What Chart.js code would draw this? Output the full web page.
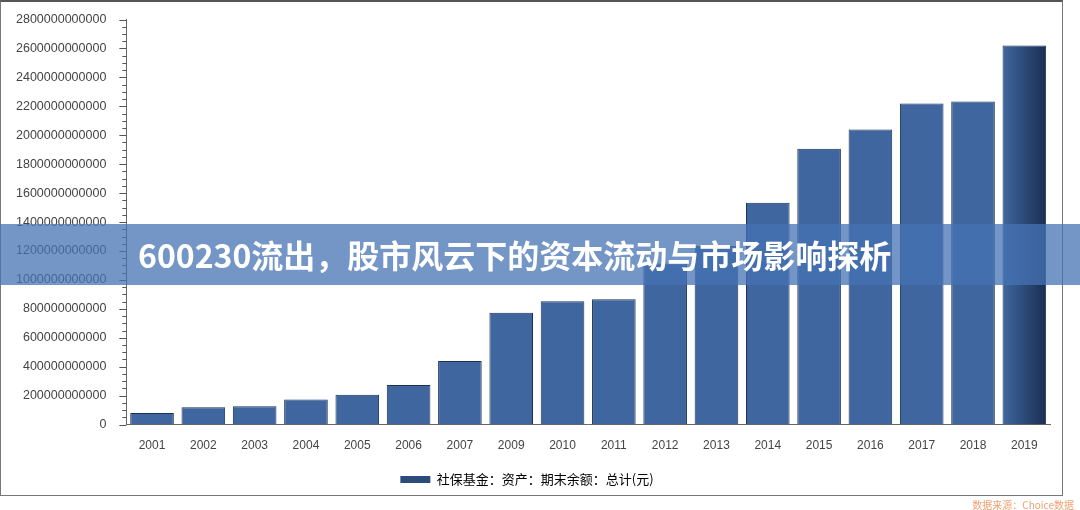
<!DOCTYPE html>
<html><head><meta charset="utf-8">
<script src="https://cdn.jsdelivr.net/npm/chart.js@4"></script>
<style>
body{margin:0;width:1080px;height:510px;background:#fff;position:relative;font-family:"Noto Sans CJK SC",sans-serif;overflow:hidden}
#frame{position:absolute;left:0;top:0;width:1063px;height:496px;border:1px solid #777;border-top:2px solid #555;box-sizing:border-box}
#wrap{position:absolute;left:0;top:0;width:1062px;height:498px}
#banner{position:absolute;left:0;top:224px;width:1080px;height:61px;background:rgba(70,115,180,0.75);color:#fff;font-weight:bold;font-size:32px;line-height:61px;padding-left:138px;box-sizing:border-box;font-family:"Noto Sans CJK SC",sans-serif}
#src{position:absolute;right:6px;top:497px;font-size:10px;color:#f0a070}
</style></head><body>
<div id="wrap"><canvas id="c"></canvas></div>
<div id="frame"></div>
<div id="banner">600230流出，股市风云下的资本流动与市场影响探析</div>
<div id="src">数据来源：Choice数据</div>
<script>
const years=['2001','2002','2003','2004','2005','2006','2007','2009','2010','2011','2012','2013','2014','2015','2016','2017','2018','2019'];
const values=[80e9,120e9,127e9,173e9,207e9,273e9,440e9,773e9,853e9,867e9,1113e9,1237e9,1533e9,1907e9,2040e9,2220e9,2233e9,2620e9];
const seriesName='社保基金：资产：期末余额：总计(元)';
const gradPlugin={id:'grad',beforeDatasetsDraw(ch){
  const c=ch.ctx;ch.getDatasetMeta(0).data.forEach(el=>{
    const g=c.createLinearGradient(el.x-el.width/2,0,el.x+el.width/2,0);
    g.addColorStop(0,'#3f669e');g.addColorStop(1,'#1a2f52');el.options.backgroundColor=g;});}};
const minorTicks={id:'minor',afterDraw(ch){
  const y=ch.scales.y,x=y.right,c=ch.ctx;c.save();c.strokeStyle='#555';c.lineWidth=1;
  for(let v=0;v<=2.8e12;v+=50e9){const p=Math.round(y.getPixelForValue(v))+0.5;const len=(Math.round(v/50e9)%4===0)?7:4;
    c.beginPath();c.moveTo(x-len,p);c.lineTo(x,p);c.stroke();}
  c.restore();}};
new Chart(document.getElementById('c'),{type:'bar',
 data:{labels:years,datasets:[{label:seriesName,data:values,backgroundColor:'#2c4c7c',borderColor:'#1b3154',borderWidth:1,categoryPercentage:0.85,barPercentage:1}]},
 options:{responsive:true,maintainAspectRatio:false,animation:false,
  layout:{padding:{left:4,right:12,top:10,bottom:2}},
  plugins:{legend:{position:'bottom',labels:{boxWidth:30,boxHeight:7,padding:14,color:'#444',font:{size:13,family:'"Noto Sans CJK SC"'},
    generateLabels:()=>[{text:seriesName,fillStyle:'#2c4c7c',strokeStyle:'#2c4c7c',lineWidth:0}]}},tooltip:{enabled:false}},
  scales:{
   x:{grid:{display:false},border:{color:'#666'},ticks:{color:'#444',padding:6,font:{size:12,family:'"Liberation Sans"'}}},
   y:{min:0,max:2.8e12,grid:{display:false},border:{color:'#666'},
      ticks:{stepSize:200e9,padding:12,color:'#444',font:{size:12.5,family:'"Liberation Sans"'},callback:v=>String(Math.round(v))}}
  }},plugins:[gradPlugin,minorTicks]});
</script></body></html>
